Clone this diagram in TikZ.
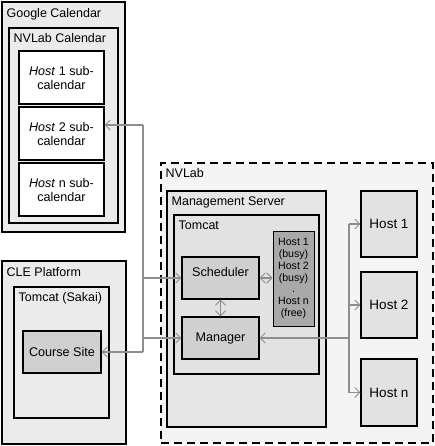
\documentclass[tikz,border=0pt]{standalone}
\usepackage{fontspec}
\setmainfont{Liberation Sans}
\usetikzlibrary{fit,arrows.meta}

\definecolor{outergray}{HTML}{EBEBEB}
\definecolor{labgray}{HTML}{F4F4F4}
\definecolor{servergray}{HTML}{E6E6E6}
\definecolor{hostgray}{HTML}{E2E2E2}
\definecolor{modgray}{HTML}{D0D0D0}
\definecolor{listgray}{HTML}{A9A9A9}
\definecolor{linkgray}{HTML}{8E8E8E}

\tikzset{
  box/.style={draw, line width=1.1pt, inner sep=0pt, align=center,
    font=\fontsize{12.6}{14}\selectfont},
  subcal/.style={box, fill=white, minimum width=85pt, minimum height=53pt},
  module/.style={box, fill=modgray, minimum width=77pt, minimum height=42pt},
  hostbox/.style={box, fill=hostgray, minimum width=56pt, minimum height=66pt,
    font=\fontsize{13.5}{15}\selectfont},
  lbl/.style={anchor=north west, inner sep=0pt, font=\fontsize{12.5}{14}\selectfont},
  link/.style={draw=linkgray, line width=1.3pt,
    arrows={[length=5pt,width=10pt]}, >={Straight Barb[line width=1pt]}}
}

\begin{document}
\begin{tikzpicture}[x=1pt,y=-1pt]
  \useasboundingbox (0,0) rectangle (434,446);

  % Google Calendar
  \node[box, fill=outergray, fit={(2,2) (125,232)}] (gcal) {};
  \node[lbl] at ([shift={(5,6.5)}]gcal.north west) {Google Calendar};
  \node[box, fill=outergray, fit={(9,28) (118,223)}] (nvcal) {};
  \node[lbl] at ([shift={(5,6)}]nvcal.north west) {NVLab Calendar};
  \node[subcal] (sub1) at (61.5,77.5) {\textit{Host} 1 sub-\\calendar};
  \node[subcal] (sub2) at (61.5,133.5) {\textit{Host} 2 sub-\\calendar};
  \node[subcal] (sub3) at (61.5,189.5) {\textit{Host} n sub-\\calendar};

  % CLE Platform
  \node[box, fill=outergray, fit={(2,261) (126,444)}] (cle) {};
  \node[lbl] at ([shift={(5,6.5)}]cle.north west) {CLE Platform};
  \node[box, fill=outergray, fit={(14,287) (109,418)}] (sakai) {};
  \node[lbl] at ([shift={(5,6)}]sakai.north west) {Tomcat (Sakai)};
  \node[module, minimum width=78pt] (course) at (62,352) {Course Site};

  % NVLab
  \node[box, dash pattern=on 8pt off 5pt, fill=labgray, fit={(161,163) (433,443)}] (nvlab) {};
  \node[lbl] at ([shift={(5,6)}]nvlab.north west) {NVLab};
  \node[box, fill=servergray, fit={(167,191) (326,427)}] (mgmt) {};
  \node[lbl] at ([shift={(5,6)}]mgmt.north west) {Management Server};
  \node[box, fill=hostgray, fit={(174,215) (319,374)}] (tomcat) {};
  \node[lbl] at ([shift={(5,6)}]tomcat.north west) {Tomcat};
  \node[module] (sched) at (220.5,278) {\raisebox{12pt}{Scheduler}};
  \node[module] (manager) at (220.5,338) {Manager};
  \node[box, line width=0.9pt, fill=listgray, minimum width=41pt, minimum height=95pt,
    font=\fontsize{10.6}{11.8}\selectfont] (hostlist) at (293.5,278.5)
    {Host 1\\(busy)\\Host 2\\(busy)\\.\\Host n\\(free)};

  % Hosts
  \node[hostbox] (host1) at (389,224) {Host 1};
  \node[hostbox] (host2) at (389,305) {Host 2};
  \node[hostbox, minimum height=67pt] (hostn) at (389,392.5) {Host n};

  % Bus gauche
  \coordinate (lb1) at (143,125);
  \coordinate (lb2) at (143,278);
  \coordinate (lb3) at (143,338);
  \coordinate (lb4) at (143,352);
  \draw[link] (lb1) -- (lb4);
  \draw[link,->] (lb1) -- (lb1 -| sub2.east);
  \draw[link,->] (lb2) -- (sched.west);
  \draw[link,->] (lb3) -- (manager.west);
  \draw[link,->] (lb4) -- (course.east);

  % Liens internes
  \draw[link,<->] (sched.east) -- (sched.east -| hostlist.west);
  \draw[link,<->] (sched.south) -- (manager.north);

  % Bus droit
  \coordinate (rb) at (349,338);
  \draw[link,->] (rb) -- (manager.east);
  \draw[link] (rb |- host1.west) -- (rb |- hostn.west);
  \foreach \h in {host1,host2,hostn}
    \draw[link,->] (rb |- \h.west) -- (\h.west);
\end{tikzpicture}
\end{document}
